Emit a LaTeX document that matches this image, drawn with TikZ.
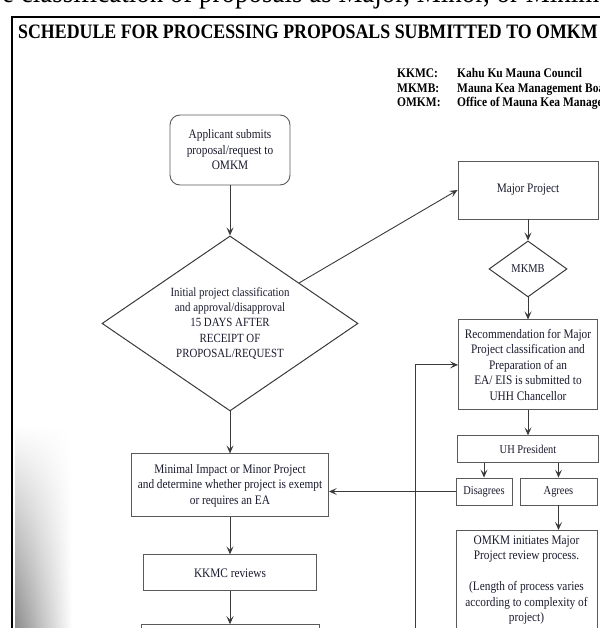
\documentclass[tikz,border=0pt]{standalone}
\usepackage{fontspec}
\setmainfont{Liberation Serif}[FakeStretch=0.87]
\usepackage{xcolor}
\definecolor{inkdark}{HTML}{1A1A2E}
\definecolor{linegray}{HTML}{3A3A3A}
\definecolor{boxgray}{HTML}{5A5A5A}
\usepackage{tikz}
\usetikzlibrary{shapes.geometric, arrows.meta, positioning, fadings}
\tikzset{
  pbox/.style ={rectangle, draw=boxgray, line width=0.9pt, fill=white, text=inkdark, align=center,
                inner sep=2pt, font=\fontsize{13}{15.5}\selectfont},
  pboxs/.style={pbox, font=\fontsize{12}{14}\selectfont},
  pround/.style={pbox, rounded corners=10pt},
  pdiam/.style={diamond, draw=linegray, line width=1pt, fill=white, text=inkdark, align=center,
                inner sep=0pt, font=\fontsize{12.5}{15.3}\selectfont},
  parr/.style ={-{Stealth[length=8pt, width=7pt, inset=3.5pt]}, line width=0.9pt, color=linegray},
  legkey/.style={anchor=base west, inner sep=0pt, font=\bfseries\fontsize{13.2}{15}\selectfont},
}
\begin{document}
\begin{tikzpicture}[x=1pt, y=-1pt]
  \useasboundingbox (0,0) rectangle (599,628);
  \node[anchor=base west, inner sep=0pt, font=\fontsize{31}{33}\selectfont] (cuttext) at (2,3)
    {e classification of proposals as Major, Minor, or Minimal};
  \draw[line width=1.1pt, color=black] (12,17) rectangle (660,680);
  \shade[left color=black!45, right color=white, path fading=north] (15,425) rectangle (72,628);
  \node[anchor=base west, inner sep=0pt, font=\bfseries\fontsize{20.5}{22}\selectfont] (title) at (18,39)
    {SCHEDULE FOR PROCESSING PROPOSALS SUBMITTED TO OMKM};
  \node[legkey] (k1) at (397,78) {KKMC:};
  \node[legkey] (k2) at (397,93) {MKMB:};
  \node[legkey] (k3) at (397,107) {OMKM:};
  \node[legkey] (d1) at (457,78) {Kahu Ku Mauna Council};
  \node[legkey] (d2) at (457,93) {Mauna Kea Management Board};
  \node[legkey] (d3) at (457,107) {Office of Mauna Kea Management};

  \node[pround, minimum width=120pt, minimum height=70pt] (apply) at (230,150)
    {Applicant submits\\proposal/request to\\OMKM};
  \node[pdiam, aspect=1.46, minimum width=256pt, minimum height=175pt, below=50pt of apply] (init)
    {Initial project classification\\and approval/disapproval\\15 DAYS AFTER\\RECEIPT OF\\PROPOSAL/REQUEST};
  \node[pbox, minimum width=197pt, minimum height=63pt, below=42pt of init] (minor)
    {Minimal Impact or Minor Project\\and determine whether project is exempt\\or requires an EA};
  \node[pbox, minimum width=173pt, minimum height=36pt, below=37pt of minor] (kkmc) {KKMC reviews};
  \node[pbox, minimum width=178pt, minimum height=40pt, below=33pt of kkmc] (nextstep) {};

  \node[pbox, minimum width=140pt, minimum height=58pt] (major) at (528,190) {Major Project};
  \node[pdiam, font=\fontsize{12}{14}\selectfont, minimum width=78pt, minimum height=56pt,
        below=21pt of major] (mkmb) {MKMB};
  \node[pbox, minimum width=139pt, minimum height=90pt, below=22pt of mkmb] (rec)
    {Recommendation for Major\\Project classification and\\Preparation of an\\EA/ EIS is submitted to\\UHH Chancellor};
  \node[pboxs, minimum width=141pt, minimum height=27pt, below=25pt of rec] (uhp) {UH President};
  \node[pboxs, minimum width=56pt, minimum height=27pt] (disag) at (484,491.5) {Disagrees};
  \node[pboxs, minimum width=77pt, minimum height=27pt] (agree) at (558.5,491.5) {Agrees};
  \node[pbox, anchor=north, minimum width=141pt, inner sep=5pt] (omkm) at (526.5,530)
    {OMKM initiates Major\\Project review process.\\[15.5pt](Length of process varies\\according to complexity of\\project)\\[20pt]};
  \coordinate (loopbot) at (415,660);

  \draw[parr] (apply) -- (init);
  \draw[parr] (init) -- (minor);
  \draw[parr] (minor) -- (kkmc);
  \draw[parr] (kkmc) -- (nextstep);
  \draw[parr] (init) -- (major.west);
  \draw[parr] (major) -- (mkmb);
  \draw[parr] (mkmb) -- (rec);
  \draw[parr] (rec) -- (uhp);
  \draw[parr] (uhp.south -| disag) -- (disag);
  \draw[parr] (uhp.south -| agree) -- (agree);
  \draw[parr] (agree) -- (agree |- omkm.north);
  \draw[parr] (disag.west) -- (disag.west -| minor.east);
  \draw[parr] (loopbot) |- (rec.west);
\end{tikzpicture}
\end{document}
